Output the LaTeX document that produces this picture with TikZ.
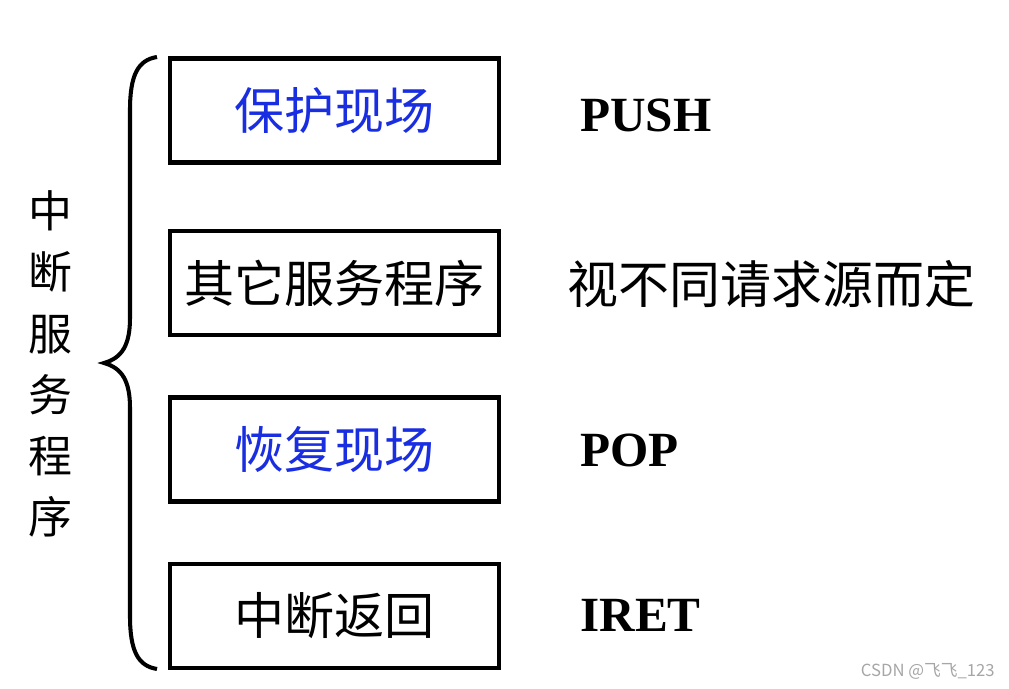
\documentclass[tikz,border=0pt]{standalone}
\usepackage{fontspec}
\setmainfont{Liberation Serif}
\newfontfamily\cjk{Noto Sans CJK SC}
\definecolor{stageblue}{RGB}{25,45,225}

\begin{document}
\begin{tikzpicture}[x=0.02cm, y=-0.02cm,
  stage/.style={draw, line width=2.3pt, minimum width=6.58cm,
    minimum height=2.08cm, inner sep=0pt,
    font=\cjk\fontsize{28.5}{30}\selectfont},
  instr/.style={anchor=west, inner sep=0pt,
    font=\bfseries\fontsize{28}{30}\selectfont}]

  \useasboundingbox (0,0) rectangle (1009,689);

  % --- the four stages ---
  \node[stage, text=stageblue] (save) at (334.5,110.5) {保护现场};
  \node[stage] (other) at (334.5,283) {其它服务程序};
  \node[stage, text=stageblue] (restore) at (334.5,449.5) {恢复现场};
  \node[stage] (ret) at (334.5,616) {中断返回};

  % --- instructions on the right ---
  \node[instr] (push) at (580,115) {PUSH};
  \node[anchor=west, inner sep=0pt, font=\cjk\fontsize{29}{30}\selectfont]
    (depends) at (567,284) {视不同请求源而定};
  \node[instr] (pop) at (580,450) {POP};
  \node[instr] (iret) at (580,615) {IRET};

  % --- brace and title ---
  \draw[line width=2.3pt] (157,57) .. controls (138,60) and (130,75) .. (130,110)
    -- (130,318) .. controls (130,345) and (122,358) .. (104,363)
    .. controls (122,368) and (130,381) .. (130,408)
    -- (130,616) .. controls (130,651) and (138,666) .. (157,669);
  \node[align=center, inner sep=0pt, font=\cjk\fontsize{25}{34.8}\selectfont]
    (title) at (50,364) {中\\断\\服\\务\\程\\序};

  \node[anchor=east, inner sep=0pt, text=gray!70,
    font=\cjk\fontsize{9.5}{10}\selectfont] (mark) at (995,671)
    {CSDN @飞飞\_123};

\end{tikzpicture}
\end{document}
